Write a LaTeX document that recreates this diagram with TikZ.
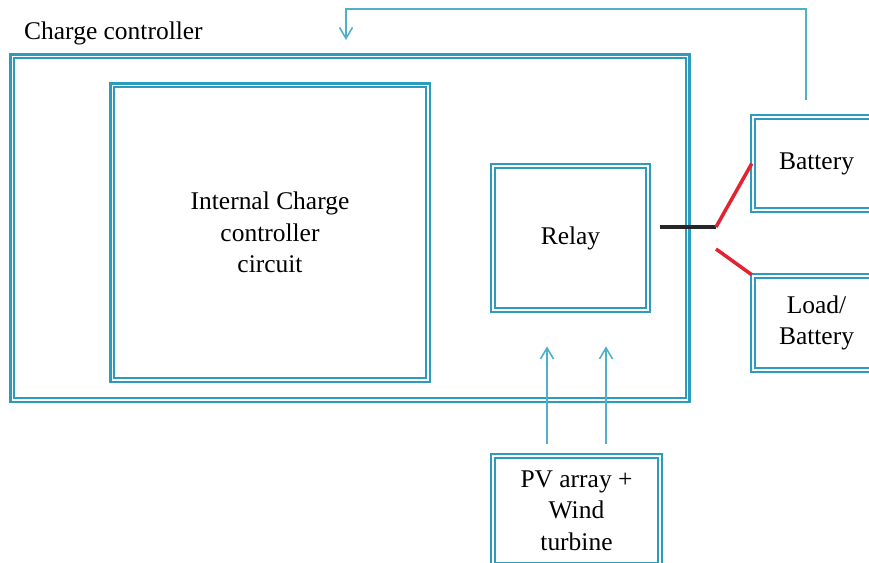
\documentclass[tikz,border=0pt]{standalone}
\usepackage{fontspec}
\setmainfont{Liberation Serif}
\usetikzlibrary{arrows.meta, positioning, calc}
\definecolor{boxteal}{RGB}{45, 155, 188}
\definecolor{wireteal}{RGB}{80, 175, 202}
\definecolor{switchred}{RGB}{225, 35, 50}

\begin{document}
\begin{tikzpicture}[
    x=0.02cm, y=-0.02cm,
    box/.style={rectangle, draw=boxteal, double=white, line width=1.4pt, double distance=0.6pt,
                align=center, font=\fontsize{14.5}{18}\selectfont, inner sep=0pt},
    wire/.style={draw=wireteal, line width=0.9pt},
    arrow/.style={wire, -{Straight Barb[length=2.2mm, width=2.6mm]}}
]
    \useasboundingbox (0,0) rectangle (869,562);

    % Boxes
    \node[box, minimum width=13.52cm, minimum height=6.88cm] (ctrl) at (350,228) {};
    \node[box, minimum width=6.32cm, minimum height=5.9cm] (circuit) at (270,232.5)
        {Internal Charge\\controller\\circuit};
    \node[box, minimum width=3.1cm, minimum height=2.88cm] (relay) at (570.5,238) {Relay};
    \node[box, minimum width=2.54cm, minimum height=1.86cm] (battery) at (816.5,163.5) {Battery};
    \node[box, minimum width=2.54cm, minimum height=1.88cm] (load) at (816.5,323) {Load/\\Battery};
    \node[box, minimum width=3.34cm, minimum height=2.18cm] (pv) at (576.5,510.5)
        {PV array +\\Wind\\turbine};
    \node[anchor=west, font=\fontsize{14.5}{18}\selectfont] (title) at (18,33) {Charge controller};

    % Feedback from battery
    \coordinate (fbcorner) at (806,9);
    \coordinate (fbend) at (346,40);
    \draw[arrow] ([yshift=9]battery.north -| fbcorner) -- (fbcorner) -| (fbend);

    % Inputs from sources
    \coordinate (inA) at (547,0);
    \coordinate (inB) at (606,0);
    \draw[arrow, shorten >=20] ([yshift=6]pv.north -| inA) -- (relay.south -| inA);
    \draw[arrow, shorten >=20] ([yshift=6]pv.north -| inB) -- (relay.south -| inB);

    % Switch
    \coordinate (pivot) at (716,227);
    \coordinate (contact) at (716,249);
    \draw[line width=1.8pt, black!85, shorten <=6] (relay.east |- pivot) -- (pivot);
    \draw[line width=2pt, switchred] (pivot) -- (battery.west);
    \draw[line width=2pt, switchred] (contact) -- (load.north west);
\end{tikzpicture}
\end{document}
